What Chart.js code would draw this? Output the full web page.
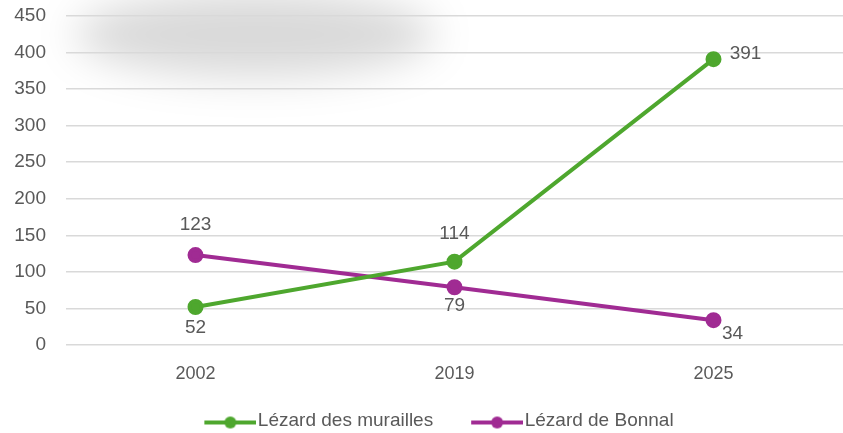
<!DOCTYPE html>
<html lang="fr">
<head>
    <meta charset="UTF-8">
    <title>Lézards</title>
    <script src="https://cdn.jsdelivr.net/npm/chart.js@4.4.1/dist/chart.umd.min.js"></script>
    <style>
        body {
            margin: 0;
            background: #fff;
            font-family: "Liberation Sans", Arial, sans-serif;
        }
        .wrap {
            position: relative;
            width: 843px;
            height: 433px;
            overflow: hidden;
        }
        /* flou gris en haut à gauche de la capture */
        .smudge {
            position: absolute;
            left: 75px;
            top: -8px;
            width: 360px;
            height: 85px;
            border-radius: 50%;
            background: rgba(0, 0, 0, 0.15);
            filter: blur(20px);
        }
        canvas { position: absolute; left: 0; top: 0; }
    </style>
</head>
<body>
    <div class="wrap">
        <div class="smudge"></div>
        <canvas id="lizards" width="843" height="433"></canvas>
    </div>

    <script>
        const years = ['2002', '2019', '2025'];
        const muralis = [52, 114, 391];
        const bonnali = [123, 79, 34];
        const yTicks = [0, 50, 100, 150, 200, 250, 300, 350, 400, 450];

        const GREEN = '#4ea72e';
        const PURPLE = '#a02b93';
        const TEXT = '#595959';
        const SANS = '"Liberation Sans", Arial, sans-serif';

        // where each value label sits relative to its point [dx, dy]
        const labelOffsets = [
            [[0, 21], [0, -28], [32, -5]],
            [[0, -30], [0, 19], [19, 14]]
        ];

        // legend marker: line with a dot, sitting in the right part of a wider
        // transparent image so the items get Excel-like spacing
        function legendMarker(color) {
            const c = document.createElement('canvas');
            c.width = 92; c.height = 18;
            const g = c.getContext('2d');
            g.strokeStyle = color;
            g.lineWidth = 4;
            g.beginPath(); g.moveTo(40, 11); g.lineTo(92, 11); g.stroke();
            g.fillStyle = color;
            g.beginPath(); g.arc(66, 11, 6, 0, Math.PI * 2); g.fill();
            return c;
        }

        const valueLabels = {
            id: 'valueLabels',
            afterLayout(chart) {
                // legend sits a little left of centre in the original
                chart.legend.left -= 12;
            },
            afterDatasetsDraw(chart) {
                const ctx = chart.ctx;
                ctx.save();
                ctx.font = '19px ' + SANS;
                ctx.fillStyle = TEXT;
                ctx.textAlign = 'center';
                ctx.textBaseline = 'middle';
                chart.data.datasets.forEach((ds, i) => {
                    chart.getDatasetMeta(i).data.forEach((pt, j) => {
                        const [dx, dy] = labelOffsets[i][j];
                        ctx.fillText(ds.data[j], pt.x + dx, pt.y + dy);
                    });
                });
                ctx.restore();
            }
        };

        const ctx = document.getElementById('lizards').getContext('2d');
        new Chart(ctx, {
            type: 'line',
            data: {
                labels: years,
                datasets: [{
                    label: 'Lézard des murailles',
                    data: muralis,
                    borderColor: GREEN,
                    backgroundColor: GREEN,
                    borderWidth: 4,
                    pointRadius: 6,
                    pointStyle: 'circle',
                    tension: 0
                }, {
                    label: 'Lézard de Bonnal',
                    data: bonnali,
                    borderColor: PURPLE,
                    backgroundColor: PURPLE,
                    borderWidth: 4,
                    pointRadius: 6,
                    pointStyle: 'circle',
                    tension: 0
                }]
            },
            options: {
                responsive: false,
                animation: false,
                layout: {
                    autoPadding: false,
                    padding: { top: 16, left: 12, right: -3, bottom: -7 }
                },
                plugins: {
                    tooltip: { enabled: false },
                    legend: {
                        position: 'bottom',
                        labels: {
                            usePointStyle: true,
                            pointStyleWidth: 76,
                            padding: 6,
                            color: TEXT,
                            font: { family: SANS, size: 19 },
                            generateLabels(chart) {
                                return chart.data.datasets.map((ds, i) => ({
                                    text: ds.label,
                                    pointStyle: legendMarker(ds.borderColor),
                                    fontColor: TEXT,
                                    lineWidth: 0,
                                    datasetIndex: i
                                }));
                            }
                        }
                    }
                },
                scales: {
                    x: {
                        offset: true,
                        afterFit(scale) { scale.height = 60; },
                        grid: { display: false, drawTicks: false },
                        border: { display: false },
                        ticks: {
                            color: TEXT,
                            padding: 18,
                            font: { family: SANS, size: 18 }
                        }
                    },
                    y: {
                        min: 0,
                        max: 450,
                        afterBuildTicks(scale) {
                            scale.ticks = yTicks.map(v => ({ value: v }));
                        },
                        afterFit(scale) {
                            scale.width = 54;
                            scale.paddingTop = 0;
                            scale.paddingBottom = 0;
                        },
                        grid: { color: '#d9d9d9', lineWidth: 1.5, drawTicks: false },
                        border: { display: false },
                        ticks: {
                            color: TEXT,
                            padding: 20,
                            font: { family: SANS, size: 19 }
                        }
                    }
                }
            },
            plugins: [valueLabels]
        });
    </script>
</body>
</html>
